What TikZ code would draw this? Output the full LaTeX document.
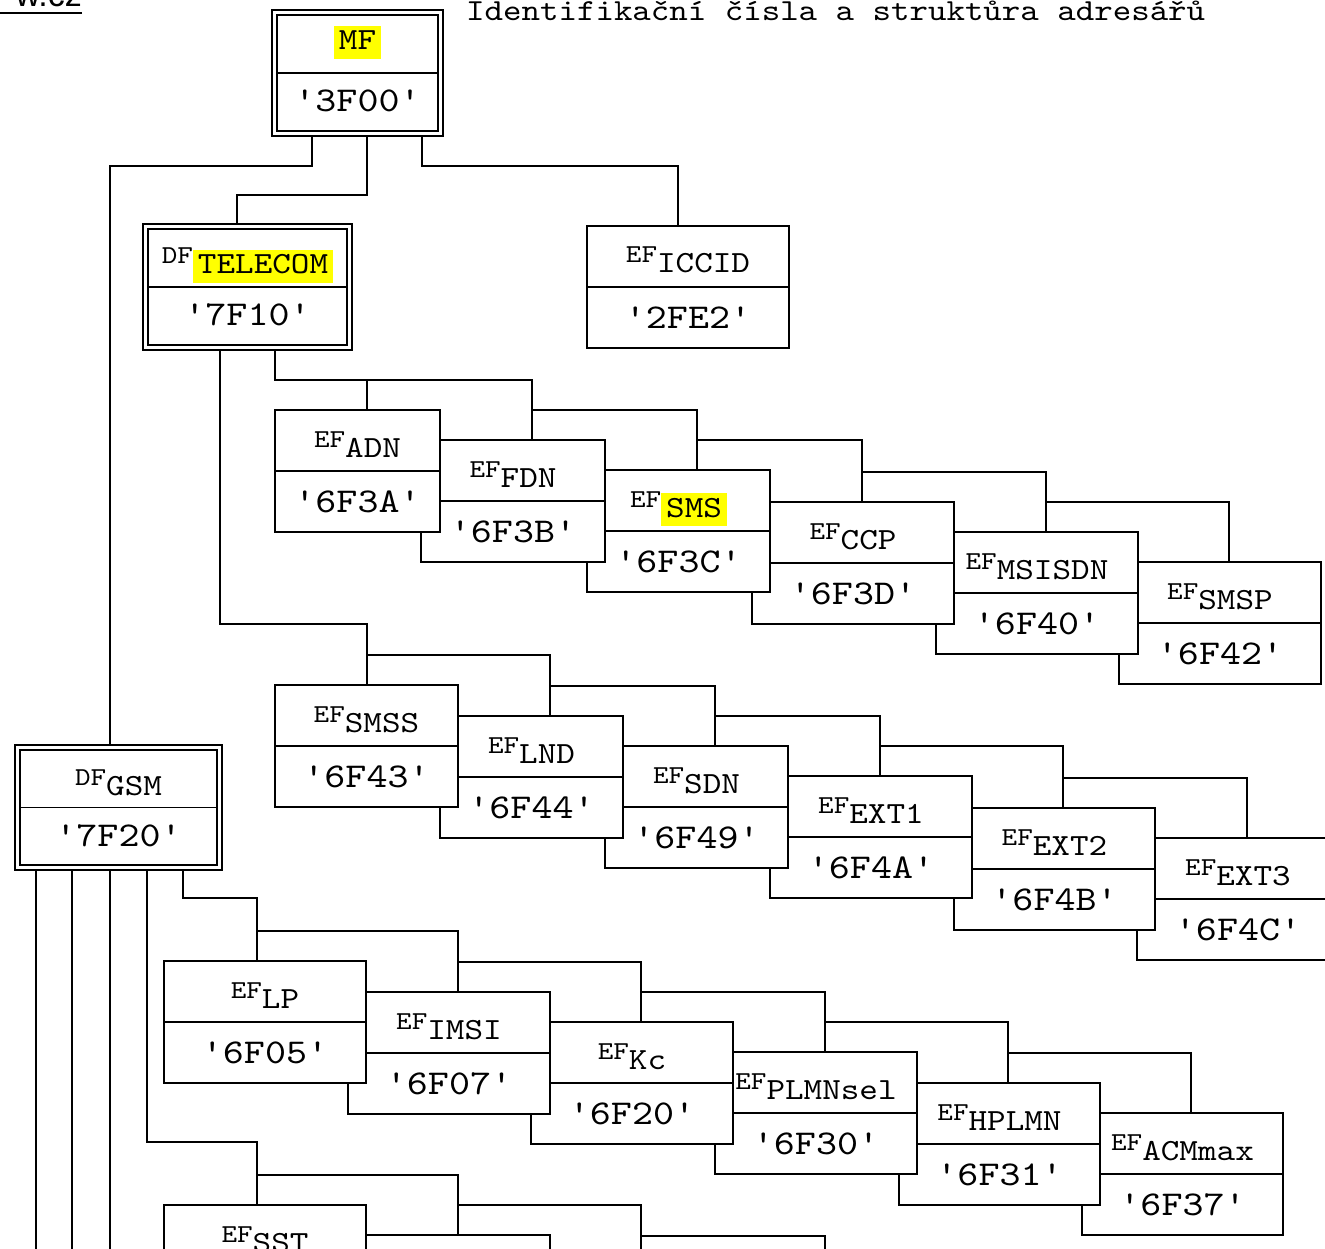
\documentclass[tikz,border=0pt]{standalone}
\usepackage{fontspec}
\setmonofont{lmmono10-regular.otf}[FakeStretch=1.15]
\newfontfamily\urlfont{Liberation Sans}

\definecolor{hlyellow}{RGB}{255,255,0}
\newcommand{\namefont}{\ttfamily\fontsize{30.8}{31}\selectfont}
\newcommand{\codefont}{\ttfamily\fontsize{34.8}{35}\selectfont}
\newcommand{\efpre}[1]{\raisebox{10pt}{\fontsize{25.8}{26}\selectfont #1}}
\newcommand{\hilite}[1]{{\setlength{\fboxsep}{5pt}\colorbox{hlyellow}{\rule[-4pt]{0pt}{22pt}#1}}}

\tikzstyle{efbox}=[draw,fill=white,line width=1.6pt,minimum height=122,inner sep=0pt,outer sep=0pt]
\tikzstyle{dfbox}=[efbox,double,double distance=3.2pt]
\tikzstyle{divider}=[line width=1.6pt]
\tikzstyle{link}=[line width=1.6pt]
\tikzstyle{nametext}=[anchor=base,inner sep=0pt,font=\namefont]
\tikzstyle{codetext}=[anchor=base,inner sep=0pt,font=\codefont]

% box: node name, left, top, right, prefix, name, code
\newcommand{\efnode}[7]{%
  \node[efbox,minimum width={#4-#2}] (#1) at ({(#2+#4)/2},{#3+61}) {};
  \draw[divider] (#1.west) -- (#1.east);
  \node[nametext] (#1-name) at ([yshift=14pt]#1.center) {\efpre{#5}#6};
  \node[codetext] (#1-code) at ([yshift=-41pt]#1.center) {#7};
}

\begin{document}
\begin{tikzpicture}[x=1pt,y=-1pt]
  \useasboundingbox (0,0) rectangle (1325,1249);
  \clip (0,0) rectangle (1325,1249);

  \node[anchor=base east,inner sep=0pt,font=\urlfont\fontsize{34}{34}\selectfont] (url) at (82,7) {w.cz};
  \draw[line width=2pt] ([yshift=-6pt]url.base east) -- ++(-90,0);
  \node[anchor=base west,inner sep=0pt,font=\ttfamily\fontsize{30.6}{31}\selectfont] (title) at (466,21)
    {Identifikační čísla a struktůra adresářů};

  % dedicated files
  \node[dfbox,minimum width=166,minimum height=121] (mf) at (357.5,73) {};
  \draw[divider] ([xshift=2.4pt]mf.west) -- ([xshift=-2.4pt]mf.east);
  \node[nametext] (mf-name) at ([yshift=23pt]mf.center) {\hilite{MF}};
  \node[codetext] (mf-code) at ([yshift=-39pt]mf.center) {'3F00'};

  \node[dfbox,minimum width=204,minimum height=121] (tele) at (247.5,287) {};
  \draw[divider] ([xshift=2.4pt]tele.west) -- ([xshift=-2.4pt]tele.east);
  \node[nametext] (tele-name) at ([yshift=13pt]tele.center) {\efpre{DF}\hilite{TELECOM}};
  \node[codetext] (tele-code) at ([yshift=-39pt]tele.center) {'7F10'};

  \node[dfbox,minimum width=202,minimum height=120] (gsm) at (118.5,807.5) {};
  \draw[divider] ([xshift=2.4pt]gsm.west) -- ([xshift=-2.4pt]gsm.east);
  \node[nametext] (gsm-name) at ([yshift=12.5pt]gsm.center) {\efpre{DF}GSM};
  \node[codetext] (gsm-code) at ([yshift=-38.5pt]gsm.center) {'7F20'};

  \efnode{iccid}{587}{226}{789}{EF}{ICCID}{'2FE2'}

  % elementary files under TELECOM
  \efnode{smsp}{1119}{562}{1321}{EF}{SMSP}{'6F42'}
  \efnode{msisdn}{936}{532}{1138}{EF}{MSISDN}{'6F40'}
  \efnode{ccp}{752}{502}{954}{EF}{CCP}{'6F3D'}
  \efnode{sms}{587}{470}{770}{EF}{\hilite{SMS}}{'6F3C'}
  \efnode{fdn}{421}{440}{605}{EF}{FDN}{'6F3B'}
  \efnode{adn}{275}{410}{440}{EF}{ADN}{'6F3A'}

  \efnode{ext3}{1137}{838}{1339}{EF}{EXT3}{'6F4C'}
  \efnode{ext2}{954}{808}{1155}{EF}{EXT2}{'6F4B'}
  \efnode{ext1}{770}{776}{972}{EF}{EXT1}{'6F4A'}
  \efnode{sdn}{605}{746}{788}{EF}{SDN}{'6F49'}
  \efnode{lnd}{440}{716}{623}{EF}{LND}{'6F44'}
  \efnode{smss}{275}{685}{458}{EF}{SMSS}{'6F43'}

  % elementary files under GSM
  \efnode{acmmax}{1082}{1113}{1283}{EF}{ACMmax}{'6F37'}
  \efnode{hplmn}{899}{1083}{1100}{EF}{HPLMN}{'6F31'}
  \efnode{plmnsel}{715}{1052}{917}{EF}{PLMNsel}{'6F30'}
  \efnode{kc}{531}{1022}{733}{EF}{Kc}{'6F20'}
  \efnode{imsi}{348}{992}{550}{EF}{IMSI}{'6F07'}
  \efnode{lp}{164}{961}{366}{EF}{LP}{'6F05'}

  \efnode{gsmb}{348}{1235}{550}{}{}{}
  \efnode{sst}{164}{1205}{366}{EF}{SST}{}

  % links from MF
  \draw[link] ([xshift=-45.5pt,yshift=-2.4pt]mf.south) -- ++(0,30) -| ([xshift=-8.5pt,yshift=2.4pt]gsm.north);
  \draw[link] ([xshift=9.5pt,yshift=-2.4pt]mf.south) -- ++(0,59) -| ([xshift=-10.5pt,yshift=2.4pt]tele.north);
  \draw[link] ([xshift=64.5pt,yshift=-2.4pt]mf.south) -- ++(0,30) -| ([xshift=-10pt]iccid.north);

  % links from TELECOM
  \draw[link] ([xshift=27.5pt,yshift=-2.4pt]tele.south) -- ++(0,30) -| ([xshift=19pt]fdn.north);
  \draw[link] ([xshift=9.5pt]adn.north) -- ++(0,-30);
  \foreach \a/\da/\b/\db in {fdn/19/sms/18.5, sms/18.5/ccp/9, ccp/9/msisdn/9, msisdn/9/smsp/9}
    \draw[link] ([xshift=\da pt,yshift=30pt]\a.north) -| ([xshift=\db pt]\b.north);

  \draw[link] ([xshift=-27.5pt,yshift=-2.4pt]tele.south) -- ++(0,274) -| ([xshift=0.5pt]smss.north);
  \foreach \a/\da/\b/\db in {smss/0.5/lnd/18.5, lnd/18.5/sdn/18.5, sdn/18.5/ext1/9, ext1/9/ext2/8.5, ext2/8.5/ext3/9}
    \draw[link] ([xshift=\da pt,yshift=30pt]\a.north) -| ([xshift=\db pt]\b.north);

  % links from GSM
  \foreach \dx in {-82.5,-46.5,-8.5}
    \draw[link] ([xshift=\dx pt,yshift=-2.4pt]gsm.south) -- ++(0,420);
  \draw[link] ([xshift=64.5pt,yshift=-2.4pt]gsm.south) -- ++(0,28) -| ([xshift=-8pt]lp.north);
  \foreach \a/\da/\b/\db in {lp/-8/imsi/9, imsi/9/kc/9, kc/9/plmnsel/9, plmnsel/9/hplmn/8.5, hplmn/8.5/acmmax/8.5}
    \draw[link] ([xshift=\da pt,yshift=30pt]\a.north) -| ([xshift=\db pt]\b.north);

  \draw[link] ([xshift=28.5pt,yshift=-2.4pt]gsm.south) -- ++(0,272) -| ([xshift=-8pt]sst.north);
  \draw[link] ([xshift=-8pt,yshift=30pt]sst.north) -| ([xshift=9pt]gsmb.north);
  \coordinate (gsmc) at (641,1266);
  \coordinate (gsmd) at (825,1296);
  \draw[link] ([xshift=9pt,yshift=30pt]gsmb.north) -| (gsmc);
  \draw[link] ([yshift=30pt]gsmc) -| (gsmd);
\end{tikzpicture}
\end{document}
